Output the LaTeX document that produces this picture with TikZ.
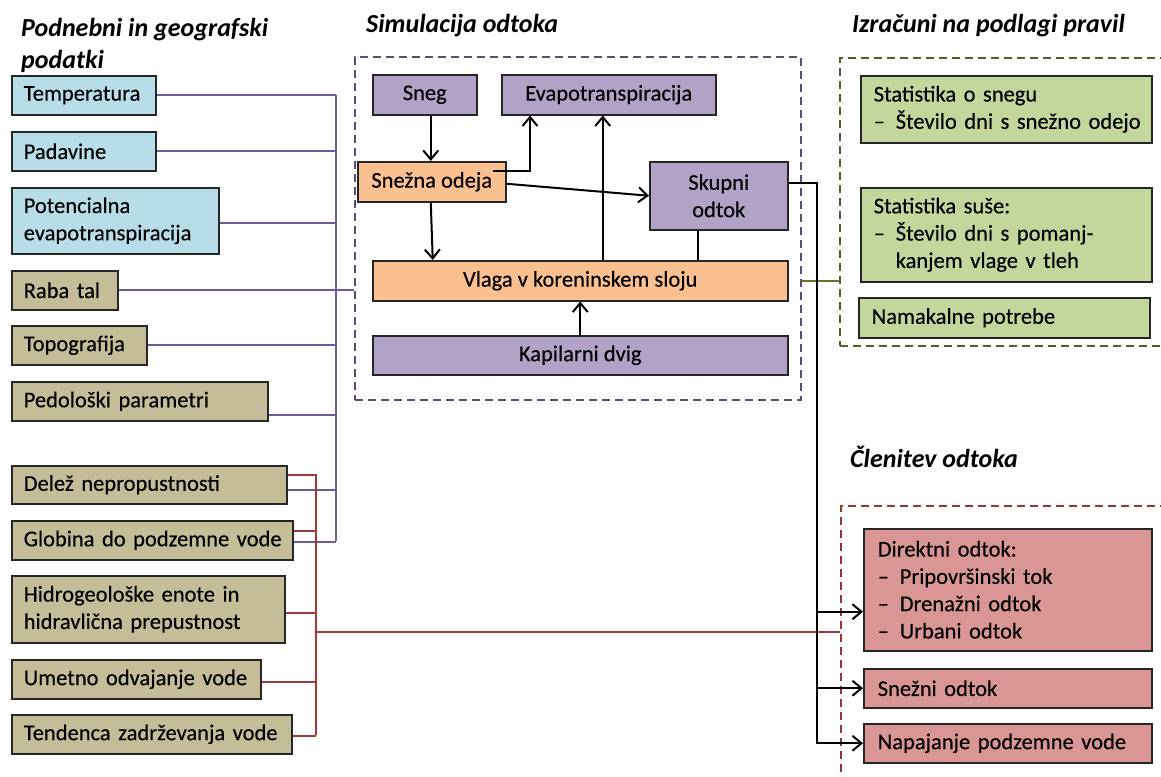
\documentclass[tikz,border=0pt]{standalone}
\usepackage{fontspec}
\setmainfont{Carlito}
\newfontfamily\boxfont{Carlito}[FakeBold=0.25]
\usetikzlibrary{arrows.meta}
\definecolor{cblue}{HTML}{B7DEE8}
\definecolor{ctan}{HTML}{C4BD97}
\definecolor{cpurp}{HTML}{B3A2C7}
\definecolor{corange}{HTML}{FAC090}
\definecolor{cgreen}{HTML}{C3D69B}
\definecolor{cpink}{HTML}{D99694}
\definecolor{lpurp}{HTML}{6F5A9A}
\definecolor{lred}{HTML}{A33A3A}
\definecolor{lgreen}{HTML}{5F7530}
\definecolor{dpurp}{HTML}{604A7B}
\definecolor{dgreen}{HTML}{4F6228}
\definecolor{dred}{HTML}{953735}
\tikzset{
  box/.style={draw=black!85, line width=1.5pt, inner ysep=0pt, anchor=north west,
    font=\boxfont\fontsize{22.5}{27.3}\selectfont},
  lbox/.style={box, align=left, inner xsep=12pt},
  cbox/.style={box, align=center, inner xsep=0pt},
  frame/.style={draw, line width=1.8pt, dash pattern=on 8pt off 5pt, anchor=north west, inner sep=0pt},
  ttl/.style={font=\fontsize{26}{32}\selectfont\bfseries\itshape, inner sep=0pt, align=left},
  pl/.style={draw=lpurp, line width=2pt},
  rl/.style={draw=lred, line width=2pt},
  gl/.style={draw=lgreen, line width=2pt},
  bl/.style={draw=black, line width=2pt},
  arr/.style={bl, -{Straight Barb[length=9pt,width=15pt,line width=2pt]}},
}
\begin{document}
\begin{tikzpicture}[x=1pt,y=-1pt]
\useasboundingbox (0,0) rectangle (1161,776);
\clip (0,0) rectangle (1161,776);
\fill[white] (0,0) rectangle (1161,776);

% titles
\node[ttl, anchor=north west] (t1) at (21,18) {Podnebni in geografski\\podatki};
\node[ttl, anchor=base west] (t2) at (366,33) {Simulacija odtoka};
\node[ttl, anchor=base west] (t3) at (852,33) {Izračuni na podlagi pravil};
\node[ttl, anchor=base west] (t4) at (850,467) {Členitev odtoka};

% dashed frames
\node[frame, draw=dpurp, minimum width=446pt, minimum height=343pt] (sim) at (354,56) {};
\node[frame, draw=dgreen, minimum width=345pt, minimum height=288pt] (rules) at (839,57) {};
\node[frame, draw=dred, minimum width=345pt, minimum height=300pt] (split) at (840,505) {};

% left boxes
\node[lbox, fill=cblue, minimum width=144pt, minimum height=39pt, text width=120pt] (temp) at (11,75) {Temperatura};
\node[lbox, fill=cblue, minimum width=144pt, minimum height=39pt, text width=120pt] (pad) at (11,131) {Padavine};
\node[lbox, fill=cblue, minimum width=207pt, minimum height=66pt, text width=183pt] (pot) at (11,187) {Potencialna\\evapotranspiracija};
\node[lbox, fill=ctan, minimum width=106pt, minimum height=39pt, text width=82pt] (raba) at (11,270) {Raba tal};
\node[lbox, fill=ctan, minimum width=135pt, minimum height=39pt, text width=111pt] (topo) at (11,325) {Topografija};
\node[lbox, fill=ctan, minimum width=256pt, minimum height=39pt, text width=232pt] (pedo) at (11,381) {Pedološki parametri};
\node[lbox, fill=ctan, minimum width=275pt, minimum height=38pt, text width=251pt] (delez) at (11,465) {Delež nepropustnosti};
\node[lbox, fill=ctan, minimum width=281pt, minimum height=39pt, text width=257pt] (glob) at (11,520) {\mbox{Globina do podzemne vode}};
\node[lbox, fill=ctan, minimum width=273pt, minimum height=67pt, text width=249pt] (hidro) at (11,575) {Hidrogeološke enote in\\hidravlična prepustnost};
\node[lbox, fill=ctan, minimum width=249pt, minimum height=39pt, text width=225pt] (umet) at (11,659) {\mbox{Umetno odvajanje vode}};
\node[lbox, fill=ctan, minimum width=280pt, minimum height=39pt, text width=256pt] (tend) at (11,714) {\mbox{Tendenca zadrževanja vode}};

% middle boxes
\node[cbox, fill=cpurp, minimum width=104pt, minimum height=40pt] (sneg) at (372,74) {Sneg};
\node[cbox, fill=cpurp, minimum width=214pt, minimum height=40pt] (evap) at (501,74) {Evapotranspiracija};
\node[cbox, fill=corange, minimum width=148pt, minimum height=40pt] (snez) at (357,161) {Snežna odeja};
\node[cbox, fill=cpurp, minimum width=138pt, minimum height=68pt] (skup) at (649,161) {Skupni\\odtok};
\node[cbox, fill=corange, minimum width=415pt, minimum height=40pt] (vlaga) at (372,260) {Vlaga v koreninskem sloju};
\node[cbox, fill=cpurp, minimum width=415pt, minimum height=39pt] (kap) at (372,335) {Kapilarni dvig};

% right green boxes
\node[lbox, inner xsep=13pt, fill=cgreen, minimum width=291pt, minimum height=67pt, text width=265pt] (stsn) at (860,75) {Statistika o snegu\\\makebox[22pt][l]{–}\mbox{Število dni s snežno odejo}};
\node[lbox, inner xsep=13pt, fill=cgreen, minimum width=291pt, minimum height=94pt, text width=265pt] (stsu) at (860,187) {Statistika suše:\\\makebox[22pt][l]{–}Število dni s pomanj-\\\hspace*{22pt}kanjem vlage v tleh};
\node[lbox, inner xsep=13pt, fill=cgreen, minimum width=291pt, minimum height=40pt, text width=265pt] (nam) at (858,297) {Namakalne potrebe};

% right red boxes
\node[lbox, inner xsep=14pt, fill=cpink, minimum width=288pt, minimum height=122pt, text width=260pt] (dir) at (863,528) {Direktni odtok:\\\makebox[22pt][l]{–}Pripovršinski tok\\\makebox[22pt][l]{–}Drenažni odtok\\\makebox[22pt][l]{–}Urbani odtok};
\node[lbox, inner xsep=14pt, fill=cpink, minimum width=288pt, minimum height=39pt, text width=260pt] (snodt) at (863,668) {Snežni odtok};
\node[lbox, inner xsep=14pt, fill=cpink, minimum width=288pt, minimum height=39pt, text width=260pt] (napaj) at (863,723) {Napajanje podzemne vode};

% purple connectors
\coordinate (pvx) at (336,0);
\coordinate (pvt) at (336,95);
\coordinate (pvb) at (336,541);
\draw[pl] (pvt) -- (pvb);
\draw[pl] (temp.east) -- (temp.east -| pvx);
\draw[pl] (pad.east) -- (pad.east -| pvx);
\draw[pl] ([yshift=-2pt]pot.east) -- ([yshift=-2pt]pot.east -| pvx);
\draw[pl] (raba.east) -- (raba.east -| sim.west);
\draw[pl] (topo.east) -- (topo.east -| pvx);
\draw[pl] ([yshift=-14pt]pedo.east) -- ([yshift=-14pt]pedo.east -| pvx);
\draw[pl] ([yshift=-5pt]delez.east) -- ([yshift=-5pt]delez.east -| pvx);
\draw[pl] ([yshift=-1.5pt]glob.east) -- ([yshift=-1.5pt]glob.east -| pvx);

% red connectors
\coordinate (rvx) at (316,0);
\coordinate (rvt) at (316,474);
\coordinate (rvb) at (316,735);
\coordinate (rj) at (316,632);
\draw[rl] (rvt) -- (rvb);
\draw[rl] ([yshift=10pt]delez.east) -- ([yshift=10pt]delez.east -| rvx);
\draw[rl] ([yshift=9.5pt]glob.east) -- ([yshift=9.5pt]glob.east -| rvx);
\draw[rl] ([yshift=-3.5pt]hidro.east) -- ([yshift=-3.5pt]hidro.east -| rvx);
\draw[rl] ([yshift=-2.5pt]umet.east) -- ([yshift=-2.5pt]umet.east -| rvx);
\draw[rl] ([yshift=-1.5pt]tend.east) -- ([yshift=-1.5pt]tend.east -| rvx);
\draw[rl] (rj) -- (rj -| split.west);

% green connector
\draw[gl] (vlaga.east -| sim.east) -- (vlaga.east -| rules.west);

% black connectors inside simulation
\draw[arr] ([xshift=6pt]sneg.south) -- ([xshift=6pt]sneg.south |- snez.north);
\draw[arr] ([xshift=-14pt,yshift=11pt]snez.east) -| ([xshift=29pt]evap.south west);
\draw[arr] ([yshift=-2pt]snez.east) -- (skup.west);
\draw[arr] ([xshift=-1pt]snez.south) -- ([xshift=1pt]snez.south |- vlaga.north);
\draw[arr] ([xshift=-6pt]evap.south |- vlaga.north) -- ([xshift=-6pt]evap.south);
\draw[bl] ([xshift=-21pt]skup.south) -- ([xshift=-21pt]skup.south |- vlaga.north);
\draw[arr] (kap.north) -- (vlaga.south);

% black connectors to run-off split
\coordinate (bx) at (817,0);
\coordinate (da) at ([yshift=-22pt]dir.west);
\draw[arr] ([yshift=13pt]skup.east) -| (bx |- napaj.west) -- (napaj.west);
\draw[arr] (bx |- snodt.west) -- (snodt.west);
\draw[arr] (bx |- da) -- (da);
\end{tikzpicture}
\end{document}
